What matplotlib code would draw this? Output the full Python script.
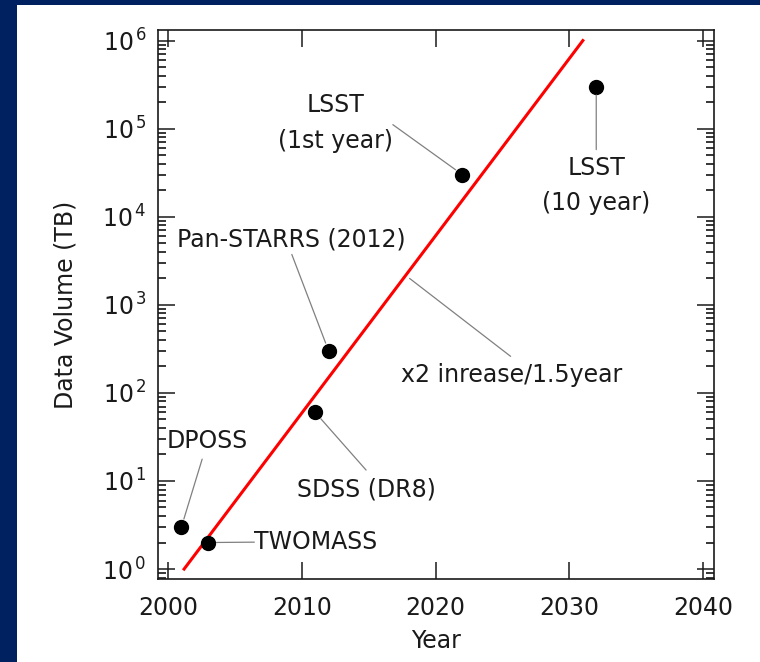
import matplotlib
matplotlib.use("Agg")
import matplotlib.pyplot as plt
from matplotlib.patches import Rectangle
from matplotlib.ticker import LogLocator, FixedLocator, FixedFormatter, NullFormatter

# ---- data ----
survey_names = ["DPOSS", "TWOMASS", "SDSS (DR8)", "Pan-STARRS (2012)", "LSST\n(1st year)", "LSST\n(10 year)"]
survey_years = [2001, 2003, 2011, 2012, 2022, 2032]
survey_tb = [3, 2, 60, 300, 30000, 300000]

trend_years = [2001.2, 2031.0]
trend_tb = [1.0, 1.0e6]
trend_label = "x2 inrease/1.5year"

# label centres and leader-line starts (data coords)
label_xy = [(2002.9, 28.3), (2011.0, 2.02), (2014.8, 8.07), (2009.2, 5510), (2012.5, 1.17e5), (2032.0, 2.26e4)]
leader_start = [(2002.55, 17.7), (2006.45, 2.02), (2014.8, 13.3), (2009.25, 3730), (2016.8, 1.11e5), (2032.0, 5.78e4)]
trend_label_xy = (2025.7, 158)
trend_leader = [(2018.05, 1995), (2025.6, 260)]

x_ticks = [2000, 2010, 2020, 2030, 2040]
y_ticks = [1, 10, 100, 1000, 10000, 100000, 1000000]
y_tick_labels = [r"$\mathregular{10^{\,%d}}$" % i for i in range(7)]

FS = 17
navy = "#00215F"
txt = "#1A1A1A"

fig = plt.figure(figsize=(7.6, 6.62), dpi=100, facecolor=navy)
fig.patches.append(Rectangle((17 / 760, 0), 1 - 17 / 760, (662 - 5) / 662,
                             transform=fig.transFigure, facecolor="white",
                             edgecolor="none", zorder=-10))
ax = fig.add_axes([158 / 760, (662 - 579) / 662, (714 - 158) / 760, (579 - 30) / 662])
ax.set_zorder(5)
ax.set_facecolor("white")

ax.set_yscale("log")
ax.set_xlim(1999.25, 2040.8)
ax.set_ylim(10 ** -0.113, 10 ** 6.12)

ax.plot(trend_years, trend_tb, color="#FF0000", lw=2.2, zorder=2)
ax.plot(survey_years, survey_tb, "o", color="black", ms=10, zorder=3)

gray = "#808080"
for name, px, py, lxy, ls in zip(survey_names, survey_years, survey_tb, label_xy, leader_start):
    ax.text(lxy[0], lxy[1], name, ha="center", va="center", fontsize=FS,
            color=txt, linespacing=1.62)
    ax.annotate("", xy=(px, py), xytext=ls,
                arrowprops=dict(arrowstyle="-", color=gray, lw=0.9,
                                shrinkA=0, shrinkB=6))

ax.text(trend_label_xy[0], trend_label_xy[1], trend_label, ha="center",
        va="center", fontsize=FS, color=txt)
ax.annotate("", xy=trend_leader[1], xytext=trend_leader[0],
            arrowprops=dict(arrowstyle="-", color=gray, lw=0.9, shrinkA=0, shrinkB=0))

ax.xaxis.set_major_locator(FixedLocator(x_ticks))
ax.yaxis.set_major_locator(FixedLocator(y_ticks))
ax.yaxis.set_major_formatter(FixedFormatter(y_tick_labels))
ax.yaxis.set_minor_locator(LogLocator(base=10, subs=range(2, 10), numticks=20))
ax.yaxis.set_minor_formatter(NullFormatter())

ax.tick_params(which="major", direction="in", length=12, width=1.1,
               top=True, right=True, labelsize=FS, colors=txt, pad=12)
ax.tick_params(which="minor", direction="in", length=6, width=1.1,
               top=True, right=True)
ax.tick_params(axis="y", which="major", pad=8)
for s in ax.spines.values():
    s.set_linewidth(1.2)
    s.set_color(txt)

ax.set_xlabel("Year", fontsize=FS, color=txt, labelpad=7)
ax.set_ylabel("Data Volume (TB)", fontsize=FS, color=txt, labelpad=18)

fig.savefig("out.png", dpi=100, facecolor=navy)
